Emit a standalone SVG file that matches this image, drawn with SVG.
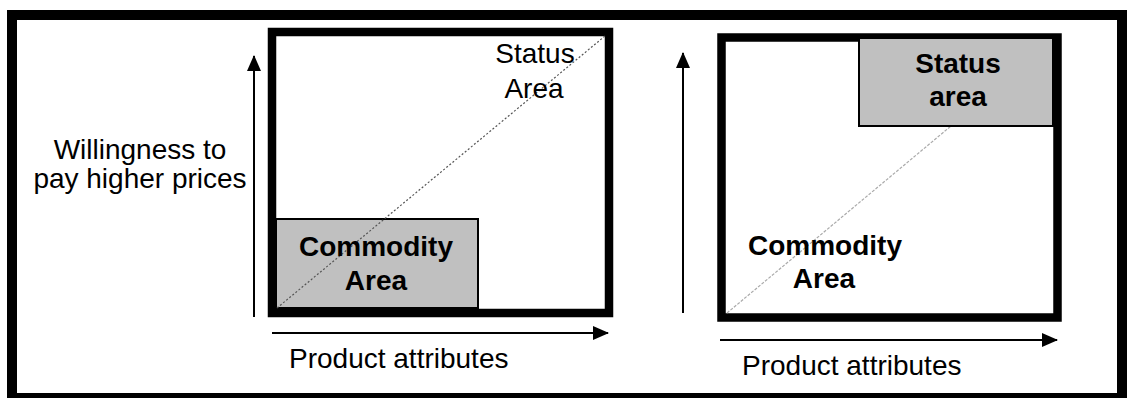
<svg xmlns="http://www.w3.org/2000/svg" width="1133" height="398" viewBox="0 0 1133 398">
<style>
.frame{fill:none;stroke:#000;stroke-width:10}
.box{fill:none;stroke:#000;stroke-width:8.5}
.area{fill:#c0c0c0;stroke:#000;stroke-width:2}
.axis{stroke:#000;stroke-width:2;fill:none}
.t{font-family:"Liberation Sans",Arial,sans-serif;font-size:28px;fill:#000;text-anchor:middle}
.tl{font-family:"Liberation Sans",Arial,sans-serif;font-size:28px;fill:#000}
.b{font-weight:bold}
.diag1{stroke:#555;stroke-width:1.2;stroke-dasharray:2 2;fill:none}
.diag2{stroke:#aaa;stroke-width:1.2;stroke-dasharray:3 1.5;fill:none}
</style>
<defs>
<marker id="ah" markerWidth="16" markerHeight="14" refX="15" refY="7" orient="auto" markerUnits="userSpaceOnUse">
<path d="M0,0 L16,7 L0,14 Z" fill="#000"/>
</marker>
</defs>
<rect x="0" y="0" width="1133" height="398" fill="#fff"/>
<rect class="frame" x="12" y="15" width="1110" height="383"/>

<g id="left-chart">
<rect class="box" x="272" y="32" width="337" height="281"/>
<rect id="left-commodity" class="area" x="276" y="219" width="202" height="89"/>
<line class="diag1" x1="277" y1="308" x2="605" y2="36"/>
<text class="t b" x="376" y="256">Commodity</text>
<text class="t b" x="376" y="290">Area</text>
<text class="t" x="535" y="63">Status</text>
<text class="t" x="534" y="98">Area</text>
</g>

<g id="right-chart">
<rect class="box" x="721.5" y="37.5" width="336" height="280"/>
<line class="diag2" x1="727" y1="313" x2="951" y2="126"/>
<rect id="right-status" class="area" x="859" y="38" width="194" height="88"/>
<text class="t b" x="958" y="73">Status</text>
<text class="t b" x="958" y="106">area</text>
<text class="t b" x="825" y="255">Commodity</text>
<text class="t b" x="824" y="288">Area</text>
</g>

<g id="labels">
<text class="t" x="140" y="159">Willingness to</text>
<text class="t" x="140" y="188">pay higher prices</text>
<text class="tl" x="289" y="368">Product attributes</text>
<text class="tl" x="742" y="375">Product attributes</text>
</g>

<g id="connectors">
<line class="axis" x1="254" y1="317" x2="254" y2="56" marker-end="url(#ah)"/>
<line class="axis" x1="272" y1="333" x2="608" y2="333" marker-end="url(#ah)"/>
<line class="axis" x1="683" y1="313" x2="683" y2="53" marker-end="url(#ah)"/>
<line class="axis" x1="720" y1="340" x2="1057" y2="340" marker-end="url(#ah)"/>
</g>
</svg>
